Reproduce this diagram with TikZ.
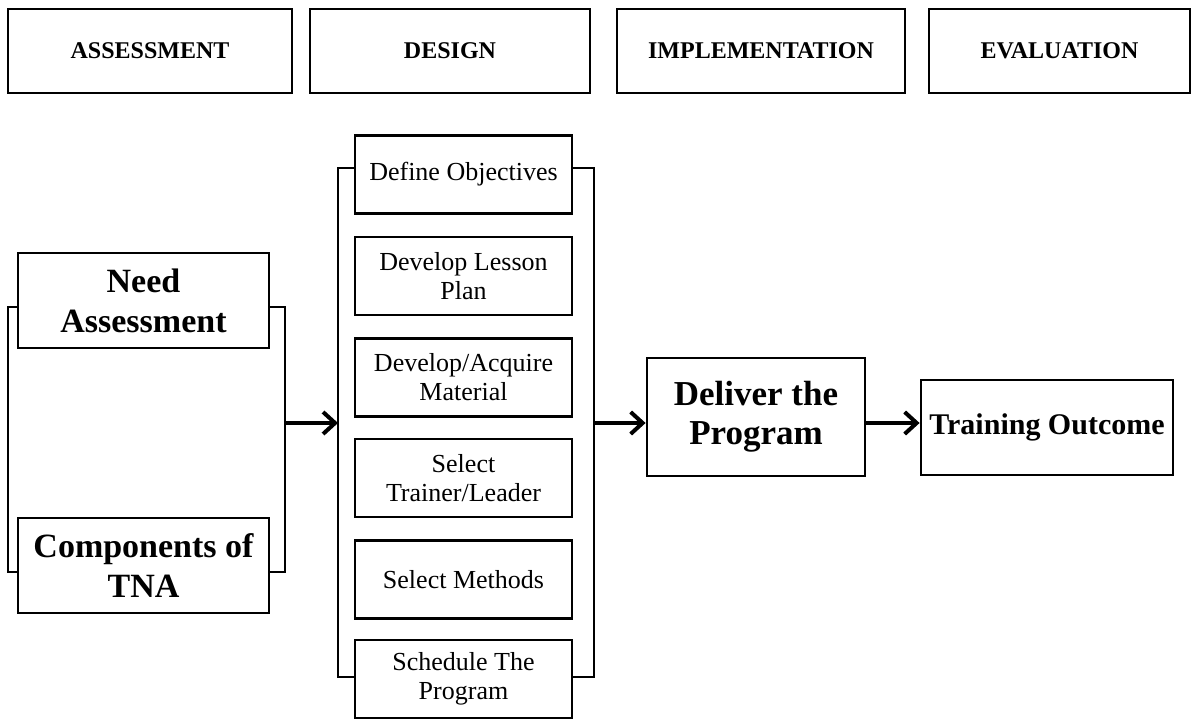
\documentclass[tikz,border=0pt]{standalone}
\usepackage{fontspec}
\setmainfont{Liberation Serif}
\usetikzlibrary{arrows.meta}
\tikzset{
	headbox/.style={draw, line width=1.4pt, minimum width=#1, minimum height=42pt, inner sep=0pt, font=\bfseries\fontsize{12}{14}\selectfont},
	bigbox/.style={draw, line width=1.4pt, align=center, inner sep=0pt, font=\bfseries\fontsize{17}{20}\selectfont},
	stepbox/.style={draw, line width=1.4pt, align=center, minimum width=108.5pt, minimum height=39pt, inner sep=0pt, font=\fontsize{13}{14.5}\selectfont},
	bracket/.style={line width=1.4pt},
	flow/.style={line width=2pt, -{Straight Barb[length=6pt,width=11pt,line width=2pt]}}
}

\begin{document}
\begin{tikzpicture}[x=0.5pt, y=-0.5pt]
			%%%%% START %%%%%
			\useasboundingbox (0, 0) rectangle (1199, 721);
			
			\node[headbox=142pt] (hassess) at (150, 51) {ASSESSMENT};
			\node[headbox=140pt] (hdesign) at (450, 51) {DESIGN};
			\node[headbox=144pt] (himpl) at (761, 51) {IMPLEMENTATION};
			\node[headbox=130.5pt] (heval) at (1059.5, 51) {EVALUATION};
			
			\node[bigbox, minimum width=125.5pt, minimum height=47.5pt] (need) at (143.5, 300.5) {Need\\Assessment};
			\node[bigbox, minimum width=125.5pt, minimum height=47.5pt] (tna) at (143.5, 565.5) {Components of\\TNA};
			
			\draw[bracket] (need.west |- 0, 307) -- (8, 307) -- (8, 572) -- (tna.west |- 0, 572);
			\draw[bracket] (need.east |- 0, 307) -- (285, 307) -- (285, 572) -- (tna.east |- 0, 572);
			
			\node[stepbox] (obj) at (463.5, 174.5) {Define Objectives};
			\node[stepbox] (lesson) at (463.5, 276) {Develop Lesson\\Plan};
			\node[stepbox] (material) at (463.5, 377.5) {Develop/Acquire\\Material};
			\node[stepbox] (trainer) at (463.5, 478) {Select\\Trainer/Leader};
			\node[stepbox] (methods) at (463.5, 579.5) {Select Methods};
			\node[stepbox] (schedule) at (463.5, 679) {Schedule The\\Program};
			
			\draw[bracket] (obj.west |- 0, 168) -- (338, 168) -- (338, 677) -- (schedule.west |- 0, 677);
			\draw[bracket] (obj.east |- 0, 168) -- (594, 168) -- (594, 677) -- (schedule.east |- 0, 677);
			
			\node[bigbox, minimum width=109pt, minimum height=59pt, font=\bfseries\fontsize{17.5}{19.5}\selectfont] (deliver) at (756, 417) {Deliver the\\Program};
			\node[bigbox, minimum width=126pt, minimum height=47.5pt, font=\bfseries\fontsize{15}{17}\selectfont] (outcome) at (1047, 427.5) {Training Outcome};
			
			\coordinate (assessout) at (285, 423);
			\coordinate (designin) at (338, 423);
			\coordinate (designout) at (594, 423);
			
			\draw[flow] (assessout) -- (designin);
			\draw[flow] (designout) -- (deliver.west |- designout);
			\draw[flow] (deliver.east |- designout) -- (outcome.west |- designout);
			%%%%% END %%%%%
\end{tikzpicture}
\end{document}
